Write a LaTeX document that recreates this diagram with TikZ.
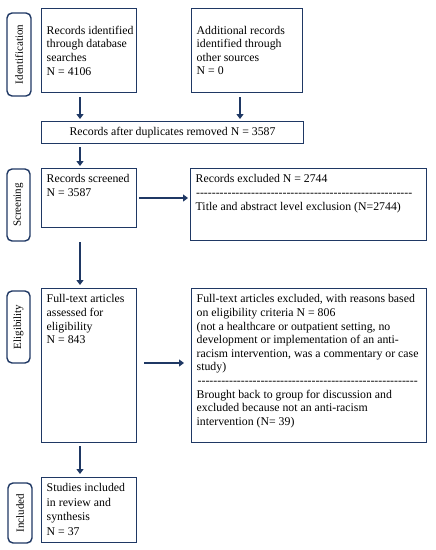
\documentclass[tikz,border=0pt]{standalone}
\usepackage{fontspec}
\setmainfont{Liberation Serif}
\usetikzlibrary{calc,arrows.meta}
\definecolor{navy}{RGB}{31,56,100}
\hfuzz=5pt
\newcommand\bxt[4]{\parbox[c][#2pt][#3]{#1pt}{\raggedright\hyphenpenalty=10000 \exhyphenpenalty=10000 #4}}
\newcommand\dashrow[1]{\leavevmode\hbox to #1pt{\cleaders\hbox{-}\hfill}}
\begin{document}
\begin{tikzpicture}[x=1pt,y=-1pt,
  box/.style={draw=navy, line width=1.4pt, inner xsep=5pt, inner ysep=6pt,
    font=\fontsize{11.8}{13.6}\selectfont},
  lab/.style={draw=navy, line width=1.4pt, rounded corners=5pt, rotate=90,
    inner sep=0pt, font=\fontsize{11}{13}\selectfont},
  arr/.style={navy, line width=2.4pt, -{Triangle[width=7pt,length=5pt]}}]
\useasboundingbox[fill=white] (0,0) rectangle (436,550);

% phase labels
\node[lab, minimum width=83pt, minimum height=24pt] (l1) at (19,54.5) {Identification};
\node[lab, minimum width=72pt, minimum height=23pt] (l2) at (18.5,205) {Screening};
\node[lab, minimum width=72pt, minimum height=23pt] (l3) at (18.5,327) {Eligibility};
\node[lab, minimum width=60pt, minimum height=24pt] (l4) at (20,513) {Included};

% boxes
\node[box] (b1) at (89,50.5) {\bxt{84.6}{71.6}{c}{\mbox{Records identified}\\through database\\searches\\N = 4106}};
\node[box] (b2) at (247,50.5) {\bxt{100.6}{71.6}{c}{Additional records\\identified through\\other sources\\N = 0}};
\node[box, inner sep=0pt, minimum width=261.6pt, minimum height=21.6pt] (b3) at (172.5,132.5) {Records after duplicates removed N = 3587};
\node[box] (b4) at (89,198) {\bxt{84.6}{46.6}{t}{Records screened\\N = 3587}};
\node[box] (b5) at (308.5,204.5) {\bxt{225.6}{59.6}{t}{Records excluded N = 2744\\\dashrow{217}\\Title and abstract level exclusion (N=2744)}};
\node[box] (b6) at (89,365.5) {\bxt{84.6}{141.6}{t}{Full-text articles\\assessed for\\eligibility\\N = 843}};
\node[box] (b7) at (309,365.5) {\bxt{224.6}{141.6}{t}{Full-text articles excluded, with reasons based\\on eligibility criteria N = 806\\(not a healthcare or outpatient setting, no\\development or implementation of an anti-\\racism intervention, was a commentary or case\\study)\\\dashrow{222}\\Brought back to group for discussion and\\excluded because not an anti-racism\\intervention (N= 39)}};
\node[box, font=\fontsize{11.8}{14.4}\selectfont] (b8) at (89,510) {\bxt{84.6}{52.6}{t}{Studies included\\in review and\\synthesis\\N = 37}};

% arrows
\draw[arr] ($(b1.south)+(-9,4)$) -- ($(b1.south |- b3.north)+(-9,-2)$);
\draw[arr] ($(b2.south)+(-7,4)$) -- ($(b2.south |- b3.north)+(-7,-2)$);
\draw[arr] ($(b4.north |- b3.south)+(-9,3)$) -- ($(b4.north)+(-9,-2)$);
\draw[arr] ($(b4.east)+(2,0)$) -- ($(b5.west |- b4.east)+(-2,0)$);
\draw[arr] ($(b4.south)+(-9,14)$) -- ($(b6.north)+(-9,-3)$);
\draw[arr] ($(b6.east)+(7,-2.5)$) -- ($(b7.west)+(-7,-2.5)$);
\draw[arr] ($(b6.south)+(-9,3)$) -- ($(b8.north)+(-9,-3)$);
\end{tikzpicture}
\end{document}
